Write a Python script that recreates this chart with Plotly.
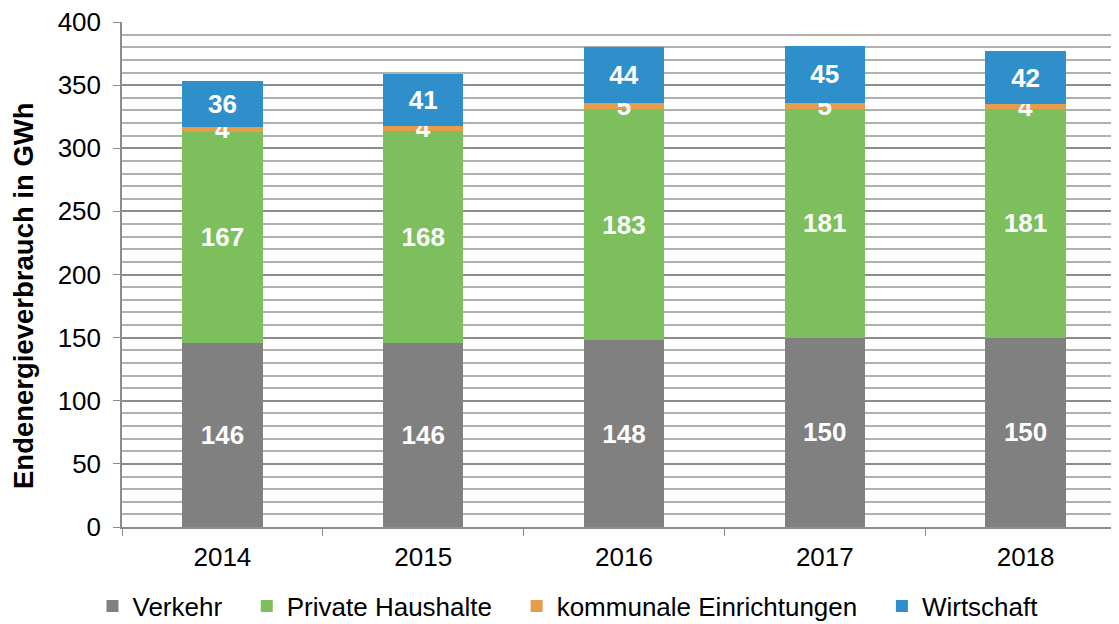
import plotly.graph_objects as go

years = ["2014", "2015", "2016", "2017", "2018"]
verkehr = [146, 146, 148, 150, 150]
private = [167, 168, 183, 181, 181]
kommunal = [4, 4, 5, 5, 4]
wirtschaft = [36, 41, 44, 45, 42]

series = [
    ("Verkehr", verkehr, "#808080"),
    ("Private Haushalte", private, "#7DBF5D"),
    ("kommunale Einrichtungen", kommunal, "#E59D49"),
    ("Wirtschaft", wirtschaft, "#2F8FCB"),
]

FONT = "Liberation Sans, Arial, sans-serif"
PAD = "\u00a0\u00a0\u2009"  # extra spacing after legend entries

# page has an 8px body margin; figure is sized/positioned to compensate
W, H = 1111, 616
ML, MT, MB, MR = 114, 14, 97, 0
PW, PH = W - ML - MR, H - MT - MB

fig = go.Figure()
for i, (name, vals, col) in enumerate(series):
    label = name + (PAD if i < len(series) - 1 else "")
    fig.add_trace(go.Bar(
        x=years, y=vals, name=label, marker=dict(color=col, line=dict(width=0)),
        text=[str(v) for v in vals], textposition="inside", insidetextanchor="middle",
        textangle=0, textfont=dict(family=FONT, size=26, color="white", weight="bold"),
        width=0.4,
    ))

fig.update_layout(
    barmode="stack",
    width=W, height=H,
    margin=dict(l=ML, r=MR, t=MT, b=MB, pad=0, autoexpand=False),
    paper_bgcolor="white", plot_bgcolor="white",
    font=dict(family=FONT, size=26, color="#000000"),
    uniformtext=dict(minsize=26, mode="show"),
    showlegend=True,
    legend=dict(orientation="h", x=(568 - 8 - ML) / PW, xanchor="center",
                y=(MT + PH - (606 - 8)) / PH, yanchor="middle",
                font=dict(size=26), itemwidth=30, traceorder="normal"),
)
fig.update_xaxes(
    type="category", range=[-0.5, 4.5 - 7 / 201],
    showline=True, linecolor="#8C8C8C", linewidth=1.5,
    ticks="outside", tickson="boundaries", ticklen=7, tickcolor="#8C8C8C",
    showgrid=False, tickfont=dict(size=26), ticklabelstandoff=6,
)
fig.update_yaxes(
    range=[0, 400], dtick=50, tick0=0,
    showline=True, linecolor="#8C8C8C", linewidth=1.5,
    ticks="outside", ticklen=7, tickcolor="#8C8C8C",
    showgrid=True, gridcolor="#8C8C8C", gridwidth=1.5,
    minor=dict(dtick=10, showgrid=True, gridcolor="#B0B0B0", gridwidth=1.5, ticks=""),
    tickfont=dict(size=26), zeroline=False, ticklabelstandoff=7,
    ticklabeloverflow="allow",
)
fig.add_annotation(
    text="<b>Endenergieverbrauch in GWh</b>", textangle=-90,
    xref="paper", yref="paper", x=(23 - 8 - ML) / PW, xanchor="center",
    y=(MT + PH - (296 - 8)) / PH, yanchor="middle", showarrow=False,
    font=dict(size=27.5, family=FONT, color="black"),
)
fig.write_html("out.html")
